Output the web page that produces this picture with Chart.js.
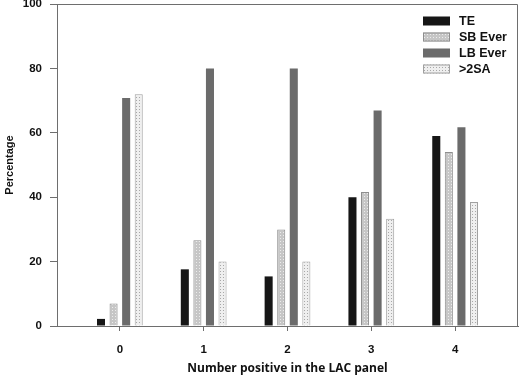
<!DOCTYPE html>
<html><head><meta charset="utf-8">
<script src="https://cdn.jsdelivr.net/npm/chart.js@4/dist/chart.umd.min.js"></script>
<style>html,body{margin:0;padding:0;background:#fff}</style>
</head><body>
<canvas id="c" width="520" height="380"></canvas>
<script>
// ---- data ----
const categories = [0, 1, 2, 3, 4];
const seriesNames = ['TE', 'SB Ever', 'LB Ever', '>2SA'];
const te     = [2.2, 17.6, 15.4, 40.0, 59.0];
const sbEver = [7.0, 26.6, 30.0, 41.6, 54.0];
const lbEver = [70.8, 80.0, 80.0, 66.9, 61.7];
const sa2    = [72.0, 20.0, 20.0, 33.3, 38.5];
const yTicks = [0, 20, 40, 60, 80, 100];
const xTitle = 'Number positive in the LAC panel';
const yTitle = 'Percentage';

// ---- styles ----
function dots(base, dot) {
  const c = document.createElement('canvas'); c.width = 3; c.height = 3;
  const x = c.getContext('2d');
  x.fillStyle = base; x.fillRect(0, 0, 3, 3);
  x.fillStyle = dot; x.fillRect(1, 1, 1, 1);
  return x.createPattern(c, 'repeat');
}
const fills = ['#161616', dots('#c6c6c6', '#ececec'), '#6b6b6b', dots('#efefef', '#a8a8a8')];
const borders = ['#161616', '#8e8e8e', '#6b6b6b', '#a0a0a0'];
const seriesValues = [te, sbEver, lbEver, sa2];
const axisColor = '#6e6e6e';
const tickFont = {family: 'Liberation Sans', size: 11.5, weight: 'bold'};

const datasets = seriesNames.map((name, s) => ({
  label: name,
  data: categories.map((c, i) => ({x: c, y: seriesValues[s][i]})),
  backgroundColor: fills[s],
  borderColor: borders[s],
  borderWidth: s === 1 || s === 3 ? 1 : 0,
  categoryPercentage: 0.6,
  barPercentage: 0.64
}));

const framePlugin = {
  id: 'frame',
  afterDraw(chart) {
    const {ctx, chartArea: a} = chart;
    ctx.save();
    ctx.strokeStyle = axisColor; ctx.lineWidth = 1;
    ctx.beginPath();
    ctx.moveTo(a.left, a.top + 0.5); ctx.lineTo(a.right - 0.5, a.top + 0.5);
    ctx.lineTo(a.right - 0.5, a.bottom);
    ctx.stroke();
    // legend inside plot
    const bx = a.right - 95, by0 = a.top + 17, step = 16;
    ctx.font = 'bold 12.5px "Liberation Sans"';
    ctx.textBaseline = 'middle';
    chart.data.datasets.forEach((d, i) => {
      const y = by0 + i * step;
      ctx.fillStyle = d.backgroundColor;
      ctx.fillRect(bx, y - 4.5, 27, 9);
      if (d.borderWidth) { ctx.strokeStyle = d.borderColor; ctx.strokeRect(bx + 0.5, y - 4, 26, 8); }
      ctx.fillStyle = '#111';
      ctx.fillText(d.label, bx + 36, y + 0.5);
    });
    ctx.restore();
  }
};

new Chart(document.getElementById('c'), {
  type: 'bar',
  data: {datasets},
  plugins: [framePlugin],
  options: {
    responsive: false, animation: false, devicePixelRatio: 1,
    layout: {padding: {top: 4, right: 2, left: 0, bottom: 0}},
    plugins: {legend: {display: false}, tooltip: {enabled: false}},
    scales: {
      x: {
        type: 'linear', min: -0.75, max: 4.75, offset: false,
        afterBuildTicks: s => { s.ticks = categories.map(v => ({value: v})); },
        afterFit: s => { s.height = 54; s.paddingLeft = 0; s.paddingRight = 0; },
        ticks: {font: tickFont, color: '#111', padding: 12, autoSkip: false, maxRotation: 0},
        grid: {display: true, offset: false, drawOnChartArea: false, drawTicks: true, tickLength: 5, color: axisColor},
        border: {display: true, color: axisColor},
        title: {display: true, text: xTitle, color: '#111',
                font: {family: 'Open Sans', size: 12, weight: 'bold'}, padding: {top: 0, bottom: 4}}
      },
      y: {
        min: 0, max: 100,
        afterBuildTicks: s => { s.ticks = yTicks.map(v => ({value: v})); },
        afterFit: s => { s.width = 57; s.paddingTop = 0; s.paddingBottom = 0; },
        ticks: {font: tickFont, color: '#111', padding: 8},
        grid: {display: true, drawOnChartArea: false, drawTicks: true, tickLength: 7, color: axisColor},
        border: {display: true, color: axisColor},
        title: {display: true, text: yTitle, color: '#111',
                font: {family: 'Liberation Sans', size: 11, weight: 'bold'}, padding: {top: 3, bottom: 0}}
      }
    }
  }
});
</script>
</body></html>
